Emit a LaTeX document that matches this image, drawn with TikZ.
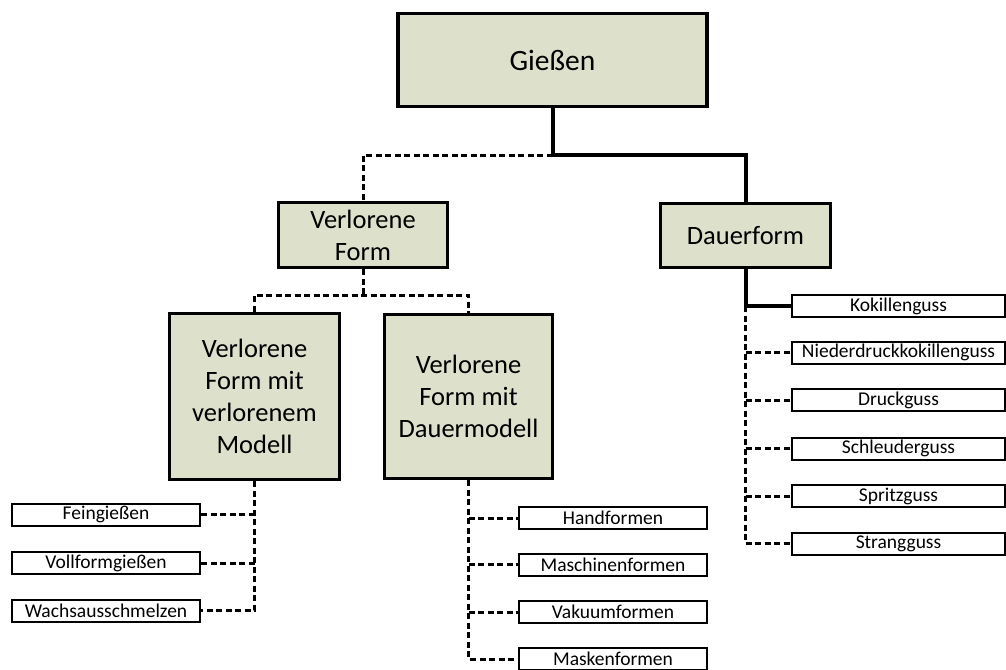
\documentclass[tikz,border=0pt]{standalone}
\usepackage{fontspec}
\setmainfont{Carlito}
\definecolor{boxfill}{RGB}{221,224,203}
\begin{document}
\begin{tikzpicture}[x=1pt,y=-1pt,
  big/.style={draw=black, line width=3.4pt, fill=boxfill, align=center, inner sep=0pt, font=\fontsize{26.5}{32}\selectfont},
  small/.style={draw=black, line width=2pt, fill=white, minimum height=22pt, inner sep=0pt, font=\fontsize{19.5}{22}\selectfont},
  leftbox/.style={small, minimum width=188pt},
  midbox/.style={small, minimum width=188pt},
  rightbox/.style={small, minimum width=213pt},
  solidline/.style={line width=4pt},
  dashline/.style={line width=3pt, dash pattern=on 6pt off 3.5pt},
]
\useasboundingbox (0,0) rectangle (1006,669);
% main boxes
\node[big, minimum width=309pt, minimum height=93pt, font=\fontsize{29.5}{36}\selectfont] (giessen) at (552.5,60) {Gießen};
\node[big, minimum width=169pt, minimum height=65pt] (vf) at (363,235) {Verlorene\\Form};
\node[big, minimum width=170pt, minimum height=64pt] (df) at (745.5,235.5) {Dauerform};
\node[big, minimum width=170pt, minimum height=166pt] (vfm) at (254.5,396.5) {Verlorene\\Form mit\\verlorenem\\Modell};
\node[big, minimum width=168pt, minimum height=164pt] (vfd) at (468.5,396.5) {Verlorene\\Form mit\\Dauermodell};
% left leaves
\node[leftbox] (l1) at (106,514.5) {Feingießen};
\node[leftbox] (l2) at (106,563) {Vollformgießen};
\node[leftbox] (l3) at (106,610.5) {Wachsausschmelzen};
% middle leaves
\node[midbox] (m1) at (613,518) {Handformen};
\node[midbox] (m2) at (613,564.5) {Maschinenformen};
\node[midbox] (m3) at (613,612) {Vakuumformen};
\node[midbox] (m4) at (613,659) {Maskenformen};
% right leaves
\node[rightbox] (r1) at (898.5,306) {Kokillenguss};
\node[rightbox] (r2) at (898.5,352.5) {Niederdruckkokillenguss};
\node[rightbox] (r3) at (898.5,400) {Druckguss};
\node[rightbox] (r4) at (898.5,448.5) {Schleuderguss};
\node[rightbox] (r5) at (898.5,496) {Spritzguss};
\node[rightbox] (r6) at (898.5,543.5) {Strangguss};
% top connectors
\coordinate (j1) at (giessen.south |- 0,155);
\draw[solidline] (giessen.south) -- (j1) -| (df.north);
\draw[dashline] (j1) -| (vf.north);
\coordinate (j2) at (vf.south |- 0,295);
\draw[dashline] (vf.south) -- (j2);
\draw[dashline] (vfm.north) |- (j2) -| (vfd.north);
% left tree
\draw[dashline] (vfm.south) |- (l3.east);
\foreach \n in {l1,l2} \draw[dashline] (vfm.south |- \n.east) -- (\n.east);
% middle tree
\draw[dashline] (vfd.south) |- (m4.west);
\foreach \n in {m1,m2,m3} \draw[dashline] (vfd.south |- \n.west) -- (\n.west);
% right tree
\coordinate (k) at (df.south |- r1.west);
\draw[dashline] (k) |- (r6.west);
\foreach \n in {r2,r3,r4,r5} \draw[dashline] (k |- \n.west) -- (\n.west);
\draw[solidline] (df.south) -- (k) -- (r1.west);
\end{tikzpicture}
\end{document}
